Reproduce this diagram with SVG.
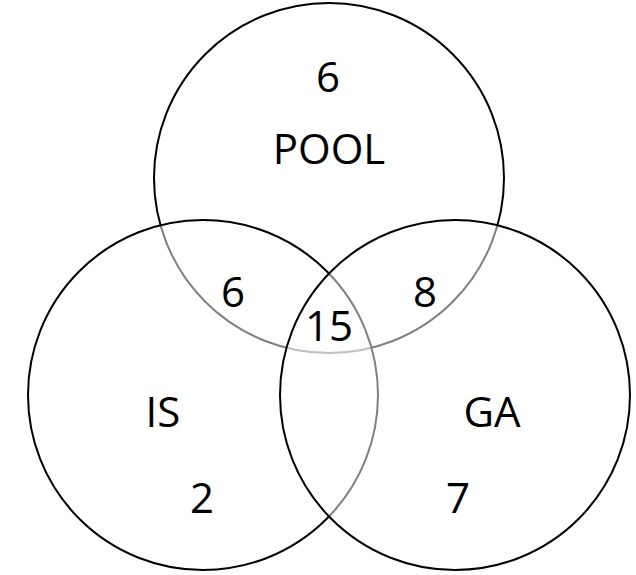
<svg xmlns="http://www.w3.org/2000/svg" width="636" height="575" viewBox="0 0 636 575">
<style>
.c{fill:#fff;fill-opacity:0.5;stroke:#000;stroke-width:2}
.t{font-family:"Open Sans","Noto Sans",sans-serif;font-size:42px;fill:#000;text-anchor:middle}
</style>
<rect width="636" height="575" fill="#fff"/>
<g id="pool"><circle class="c" cx="329" cy="178" r="175"/></g>
<g id="is"><circle class="c" cx="203" cy="395" r="175"/></g>
<g id="ga"><circle class="c" cx="455" cy="395" r="175"/></g>
<g id="labels">
<text class="t" x="328" y="92">6</text>
<text class="t" x="329" y="164">POOL</text>
<text class="t" x="233" y="307">6</text>
<text class="t" x="425" y="307">8</text>
<text class="t" x="329" y="341">15</text>
<text class="t" x="163" y="427">IS</text>
<text class="t" x="492" y="427">GA</text>
<text class="t" x="202" y="513">2</text>
<text class="t" x="458" y="513">7</text>
</g>
</svg>
